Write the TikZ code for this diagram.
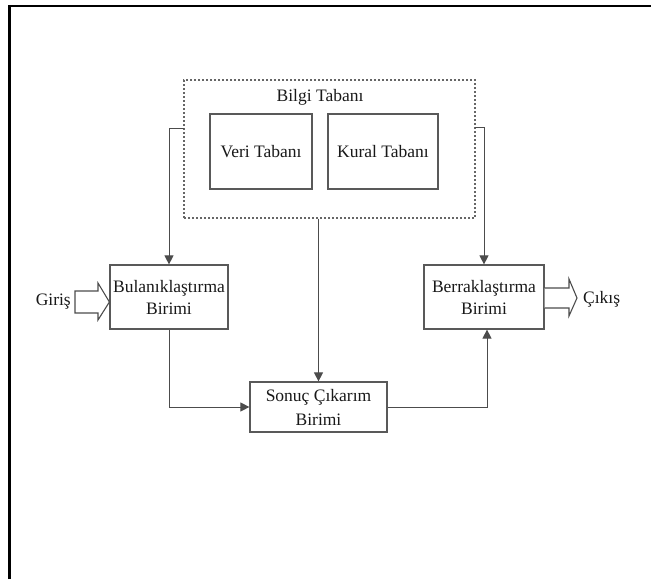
\documentclass[tikz,border=0pt]{standalone}
\usepackage{fontspec}
\setmainfont{Liberation Serif}
\usetikzlibrary{arrows.meta}
\begin{document}
\begin{tikzpicture}[x=1pt,y=-1pt,
  lbl/.style={font=\fontsize{17.5}{20}\selectfont, inner sep=0pt, align=center, text=black!90},
  unit/.style={draw=black!65, line width=1.2pt, fill=white, inner sep=0pt},
  conn/.style={draw=black!70, line width=1pt},
  arr/.style={conn, -{Triangle[length=9pt,width=9pt]}},
  hollow/.style={draw=black!70, line width=1.1pt, fill=white, line join=miter}]
\useasboundingbox (0,0) rectangle (651,579);
% page frame (top and left edges)
\draw[line width=2.5pt] (9.5,579) -- (9.5,6) -- (651,6);

% knowledge base group
\node[draw=black!60, line width=1.1pt, dash pattern=on 2pt off 2pt, minimum width=291pt, minimum height=138pt, inner sep=0pt] (kb) at (329.5,149) {};
\node[lbl] (kbt) at (320,97) {Bilgi Tabanı};
\node[unit, minimum width=102pt, minimum height=75pt] (veri) at (261,151.5) {};
\node[lbl] at (veri.center) {Veri Tabanı};
\node[unit, minimum width=110pt, minimum height=75pt] (kural) at (383,151.5) {};
\node[lbl] at (kural.center) {Kural Tabanı};

% processing units
\node[unit, minimum width=118pt, minimum height=64pt] (bul) at (169,297) {};
\node[lbl] at (bul.center) {Bulanıklaştırma\\[2pt]Birimi};
\node[unit, minimum width=120pt, minimum height=64pt] (ber) at (484,297) {};
\node[lbl] at (ber.center) {Berraklaştırma\\[2pt]Birimi};
\node[unit, minimum width=137pt, minimum height=50pt] (son) at (318.5,407) {};
\node[lbl] at (son.center) {Sonuç Çıkarım\\[4pt]Birimi};

% connectors
\coordinate (kbl) at (184,128);
\coordinate (kbr) at (474.5,127);
\draw[arr] (kbl) -| (bul.north);
\draw[arr] (kbr) -| (ber.north);
\draw[arr] (kb.south -| son.north) -- (son.north);
\draw[arr] (bul.south) |- (son.west);
\draw[arr] (son.east) -| ([xshift=3pt]ber.south);

% input and output
\node[lbl, anchor=east] (giris) at (71,302) {Giriş};
\draw[hollow] (75,291) -- (98,291) -- (98,283) -- (bul.west |- 0,302) -- (98,320) -- (98,313) -- (75,313) -- cycle;
\node[lbl, anchor=west] (cikis) at (583,299) {Çıkış};
\draw[hollow] (ber.east |- 0,288) -- (569,288) -- (569,279) -- (577,298) -- (569,316) -- (569,308) -- (ber.east |- 0,308);
\end{tikzpicture}
\end{document}
